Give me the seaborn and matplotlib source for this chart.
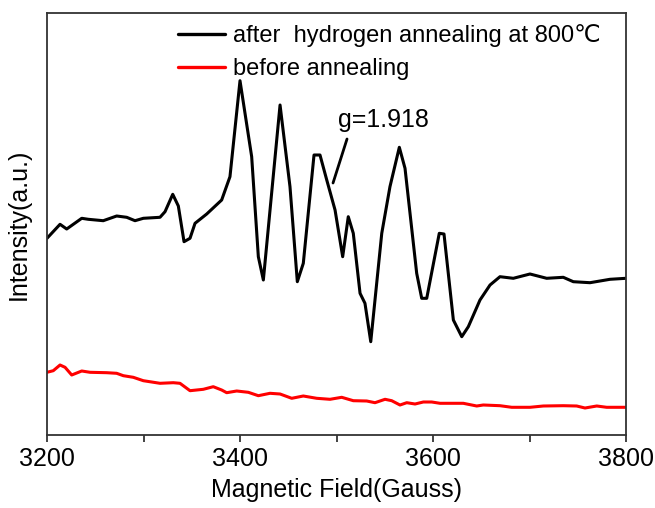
import numpy as np
import pandas as pd
import matplotlib
matplotlib.use("Agg")
import matplotlib.pyplot as plt
import seaborn as sns

# ---- data (intensity in arbitrary units) ----
after_field = [3200, 3213.5, 3220.4, 3236, 3242.8, 3258.3, 3272.2, 3282.6, 3291.2, 3299.8,
               3317.1, 3322.3, 3330.3, 3336.1, 3342, 3348.2, 3353.4, 3365.5, 3381, 3389.6,
               3400, 3412.1, 3419, 3424.2, 3441.5, 3451.8, 3459.4, 3465.6, 3476.7, 3482.9,
               3489.9, 3498.5, 3506.4, 3512.2, 3517.4, 3524.4, 3529.5, 3535.5, 3546.9, 3555.4,
               3565.1, 3571, 3583.1, 3588.3, 3593.5, 3606.5, 3611.4, 3621.1, 3629.8, 3636.6,
               3648.7, 3659.1, 3669.4, 3683.2, 3700.5, 3717.8, 3735, 3745.4, 3762.7, 3783.4, 3800]
after_int = [196.7, 210.7, 206, 216.7, 215.7, 214.3, 219, 217.7, 214.3, 216.7,
             217.7, 223.3, 240.7, 229, 193.3, 196.7, 211.7, 221, 235, 258.3,
             354.3, 278.3, 178.3, 155, 330, 248.3, 153.3, 171.7, 280, 280,
             255, 225, 178.3, 218.3, 201.7, 141.7, 131.7, 93.3, 201.7, 248.3,
             287.7, 266.7, 161.7, 136.7, 136.7, 201.7, 201, 115, 98.3, 108.3,
             135, 150, 158.3, 156.7, 161, 156.7, 157.7, 153.3, 152.3, 155.7, 156.7]

before_field = [3200, 3206.5, 3213.5, 3218.7, 3225.6, 3236, 3244.6, 3261.9, 3272.2, 3279.1,
                3289.4, 3299.8, 3317.1, 3330.9, 3337.8, 3348.2, 3362, 3372.3, 3381, 3386.2,
                3396.6, 3408.6, 3419, 3431.1, 3441.5, 3453.6, 3465.6, 3479.5, 3493.3, 3505.4,
                3517.4, 3531.3, 3539.9, 3550.3, 3557.2, 3565.8, 3572.8, 3581.4, 3590, 3598.7,
                3607.3, 3631.4, 3645.3, 3652.1, 3669.4, 3681.6, 3700.5, 3714.3, 3735, 3748.9,
                3757.5, 3769.7, 3780, 3800]
before_int = [62.7, 64.3, 70, 67.7, 60, 64, 62.7, 62.3, 61.7, 59.3,
              57.7, 54.3, 51.7, 52.3, 51.7, 44.3, 45.7, 48.3, 45, 42.3,
              44, 42.7, 39.3, 41.7, 41, 36.7, 39, 36.7, 35.7, 37.7,
              34.3, 34, 32.3, 35.7, 34.3, 30, 32.3, 31, 33, 33,
              31.7, 31.7, 29, 30, 29.3, 27.7, 27.7, 29, 29.3, 29,
              27, 29, 27.7, 27.7]

series_labels = ["after  hydrogen annealing at 800\u2103", "before annealing"]
series_colors = ["#000000", "#ff0000"]
x_ticks = [3200, 3400, 3600, 3800]
x_minor = [3300, 3500, 3700]
annot_text = "g=1.918"

# ---- build table ----
df = pd.concat([
    pd.DataFrame({"field": after_field, "intensity": after_int, "series": series_labels[0]}),
    pd.DataFrame({"field": before_field, "intensity": before_int, "series": series_labels[1]}),
], ignore_index=True)

sns.set_style("ticks")
plt.rcParams["font.family"] = ["Liberation Sans", "DejaVu Sans"]
plt.rcParams["text.color"] = "black"
plt.rcParams["axes.labelcolor"] = "black"

fig = plt.figure(figsize=(6.55, 5.08), dpi=100)
ax = fig.add_axes([47 / 655, 73 / 508, 579 / 655, 422 / 508])

sns.lineplot(data=df, x="field", y="intensity", hue="series", hue_order=series_labels,
             palette=series_colors, sort=False, estimator=None, linewidth=2.2, ax=ax)

ax.set_xlim(3200, 3800)
ax.set_ylim(0, 422)
ax.set_xticks(x_ticks)
ax.set_xticks(x_minor, minor=True)
ax.set_yticks([])
ax.tick_params(axis="x", which="major", direction="out", length=5, width=1.2,
               labelsize=18, pad=4, colors="#222222", labelcolor="black")
ax.tick_params(axis="x", which="minor", direction="out", length=5, width=1.2, colors="#222222")
for s in ax.spines.values():
    s.set_visible(True)
    s.set_linewidth(1.3)
    s.set_color("#333333")

ax.set_xlabel("Magnetic Field(Gauss)", fontsize=18, labelpad=5, color="black")
ax.set_ylabel("Intensity(a.u.)", fontsize=18, labelpad=12, color="black")

# annotation line + label
ax.annotate("", xy=(3496.4, 252), xytext=(3510.9, 296),
            arrowprops=dict(arrowstyle="-", lw=2.0, color="black",
                            shrinkA=0, shrinkB=0))
ax.text(3549, 315, annot_text, fontsize=18, ha="center", va="center", color="black")

leg = ax.legend(loc="upper left", bbox_to_anchor=(0.197, 1.012), frameon=False,
                fontsize=17, handlelength=2.0, handletextpad=0.35,
                labelspacing=0.45, borderaxespad=0.3)
for line in leg.get_lines():
    line.set_linewidth(2.4)
for t in leg.get_texts():
    t.set_color("black")

fig.savefig("out.png", dpi=100)
